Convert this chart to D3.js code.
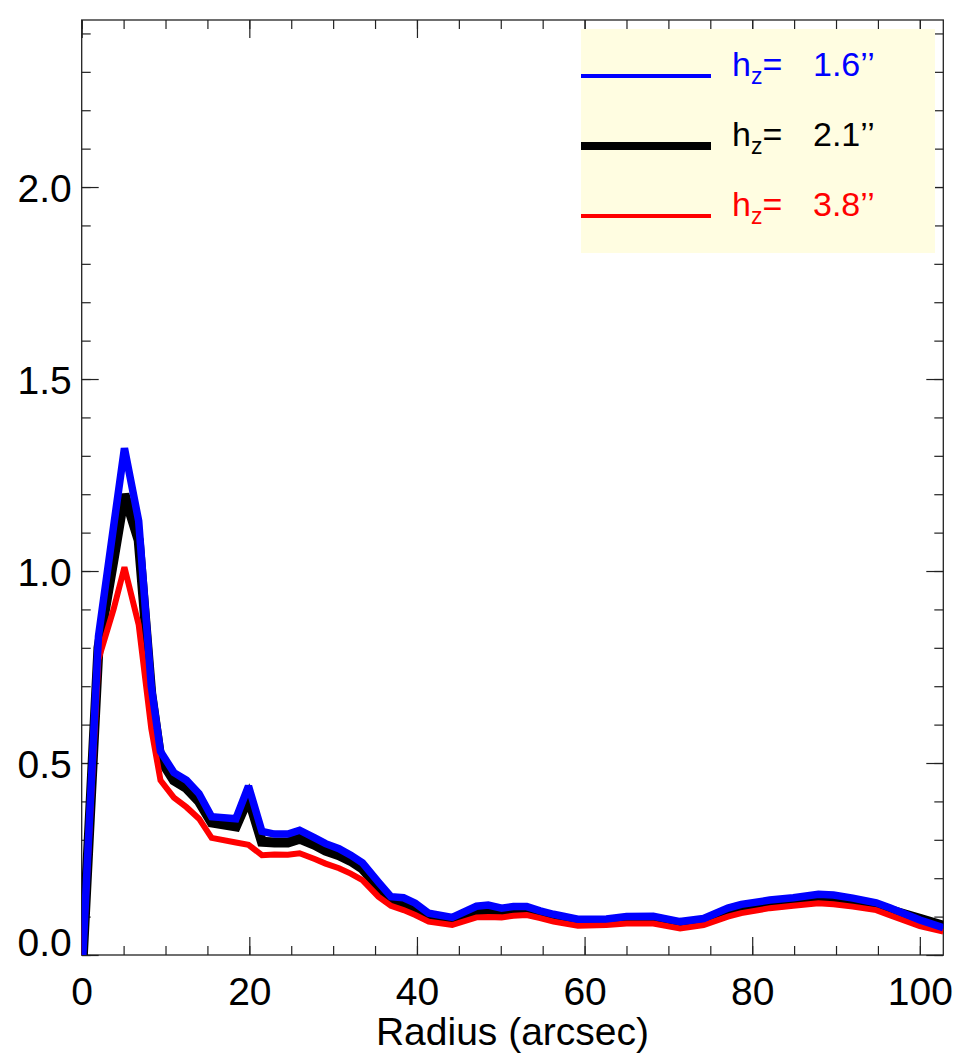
<!DOCTYPE html>
<html>
<head>
<meta charset="utf-8">
<script src="https://cdn.jsdelivr.net/npm/d3@7"></script>
<style>
  body { margin: 0; background: #fff; }
  text { font-family: "Liberation Sans", Arial, Helvetica, sans-serif; }
</style>
</head>
<body>
<div id="chart-area"></div>
<script>
// radius (arcsec) and the three profiles
var radius = [0.0, 2.0, 3.8, 5.1, 6.8, 8.3, 9.4, 11.0, 12.5, 14.0, 15.5, 18.4, 19.9, 21.5, 23.0, 24.6,
  26.0, 27.8, 29.1, 30.7, 32.1, 33.5, 35.4, 36.9, 38.4, 39.8, 41.4, 44.2, 47.1, 48.5, 50.1, 51.5,
  53.1, 54.7, 56.3, 59.2, 62.6, 65.0, 68.2, 71.4, 74.2, 77.1, 78.7, 82.1, 84.9, 87.9, 89.7, 92.0,
  94.8, 96.4, 100.0, 102.8]
var hz16 = [-0.06, 0.83, 1.115, 1.32, 1.13, 0.70, 0.53, 0.475, 0.455, 0.42, 0.36, 0.355, 0.44, 0.322, 0.315, 0.315,
  0.325, 0.305, 0.29, 0.277, 0.26, 0.24, 0.19, 0.152, 0.149, 0.135, 0.109, 0.098, 0.127, 0.13, 0.122, 0.126,
  0.126, 0.115, 0.106, 0.093, 0.094, 0.10, 0.101, 0.087, 0.095, 0.122, 0.132, 0.143, 0.149, 0.158, 0.156, 0.148,
  0.136, 0.123, 0.091, 0.071]
var hz21 = [-0.06, 0.80, 1.03, 1.20, 1.08, 0.68, 0.51, 0.455, 0.435, 0.40, 0.345, 0.335, 0.41, 0.295, 0.293, 0.293,
  0.303, 0.287, 0.272, 0.26, 0.245, 0.225, 0.178, 0.14, 0.135, 0.122, 0.098, 0.09, 0.115, 0.116, 0.112, 0.115,
  0.115, 0.105, 0.096, 0.085, 0.086, 0.091, 0.092, 0.08, 0.087, 0.112, 0.122, 0.134, 0.14, 0.148, 0.147, 0.14,
  0.128, 0.117, 0.094, 0.076]
var hz38 = [-0.06, 0.77, 0.90, 1.01, 0.86, 0.59, 0.455, 0.41, 0.385, 0.355, 0.305, 0.293, 0.287, 0.26, 0.262, 0.261,
  0.265, 0.25, 0.238, 0.226, 0.212, 0.195, 0.152, 0.128, 0.117, 0.104, 0.087, 0.078, 0.098, 0.099, 0.098, 0.102,
  0.104, 0.096, 0.087, 0.076, 0.078, 0.082, 0.082, 0.069, 0.078, 0.10, 0.109, 0.122, 0.128, 0.135, 0.132, 0.126,
  0.117, 0.104, 0.075, 0.061]
var legendValues = ["1.6\u2019\u2019", "2.1\u2019\u2019", "3.8\u2019\u2019"]

var xTicks = [0, 20, 40, 60, 80, 100]
var yTicks = [0.0, 0.5, 1.0, 1.5, 2.0]

var W = 959, H = 1058
var box = { left: 81.7, right: 943.3, top: 20, bottom: 955 }

var svg = d3.select("#chart-area")
    .append("svg")
    .attr("width", W)
    .attr("height", H)

var x = d3.scaleLinear()
    .domain([0, 102.8])
    .range([box.left, box.right])
var y = d3.scaleLinear()
    .domain([0, 2.435])
    .range([box.bottom, box.top])

var xMinor = d3.range(0, 103, 5)
var yMinor = d3.range(0, 24.4, 1).map(d => d / 10)

function styleAxis(sel) {
    sel.selectAll("path").remove()
    sel.selectAll("line").attr("stroke", "#222").attr("stroke-width", 1.2)
    sel.selectAll("text").attr("fill", "#000").attr("font-size", "39px")
        .attr("font-family", "'Liberation Sans', Arial, sans-serif")
}

// bottom axis: minor + major
svg.append("g").attr("transform", "translate(0," + box.bottom + ")")
    .call(d3.axisTop(x).tickValues(xMinor).tickSize(9).tickFormat(""))
    .call(styleAxis)
var xAxis = svg.append("g").attr("transform", "translate(0," + box.bottom + ")")
    .call(d3.axisTop(x).tickValues(xTicks).tickSize(18).tickFormat(d3.format("d")))
    .call(styleAxis)
xAxis.selectAll("text").attr("y", 50).attr("dy", 0)
// top axis (mirrored, no labels)
svg.append("g").attr("transform", "translate(0," + box.top + ")")
    .call(d3.axisBottom(x).tickValues(xMinor).tickSize(9).tickFormat(""))
    .call(styleAxis)
svg.append("g").attr("transform", "translate(0," + box.top + ")")
    .call(d3.axisBottom(x).tickValues(xTicks).tickSize(18).tickFormat(""))
    .call(styleAxis)

// left axis
svg.append("g").attr("transform", "translate(" + box.left + ",0)")
    .call(d3.axisRight(y).tickValues(yMinor).tickSize(9).tickFormat(""))
    .call(styleAxis)
var yAxis = svg.append("g").attr("transform", "translate(" + box.left + ",0)")
    .call(d3.axisRight(y).tickValues(yTicks).tickSize(17).tickFormat(d3.format(".1f")))
    .call(styleAxis)
yAxis.selectAll("text")
    .attr("text-anchor", "end")
    .attr("x", -10)
    .attr("dy", 0)
    .attr("y", d => d === 0 ? 0 : 14)
// right axis
svg.append("g").attr("transform", "translate(" + box.right + ",0)")
    .call(d3.axisLeft(y).tickValues(yMinor).tickSize(9).tickFormat(""))
    .call(styleAxis)
svg.append("g").attr("transform", "translate(" + box.right + ",0)")
    .call(d3.axisLeft(y).tickValues(yTicks).tickSize(17).tickFormat(""))
    .call(styleAxis)

// frame
svg.append("rect")
    .attr("x", box.left).attr("y", box.top)
    .attr("width", box.right - box.left).attr("height", box.bottom - box.top)
    .attr("fill", "none").attr("stroke", "#222").attr("stroke-width", 1.3)

svg.append("text")
    .attr("x", (box.left + box.right) / 2)
    .attr("y", 1045)
    .attr("text-anchor", "middle")
    .attr("font-size", "39px")
    .text("Radius (arcsec)")

// legend box
svg.append("rect")
    .attr("x", 581).attr("y", 29)
    .attr("width", 354).attr("height", 224)
    .attr("fill", "#fffde1")

// profiles
svg.append("clipPath").attr("id", "plotclip")
    .append("rect")
    .attr("x", box.left).attr("y", box.top)
    .attr("width", box.right - box.left).attr("height", box.bottom - box.top)

var line = d3.line()
    .x((d, i) => x(radius[i]))
    .y(d => y(d))

var series = [
    { values: hz21, color: "#000000", width: 10, legendWidth: 8, label: legendValues[1], row: 1 },
    { values: hz38, color: "#ff0000", width: 6, legendWidth: 4, label: legendValues[2], row: 2 },
    { values: hz16, color: "#0000ff", width: 7.5, legendWidth: 4, label: legendValues[0], row: 0 }
]

var plot = svg.append("g").attr("clip-path", "url(#plotclip)")
series.forEach(s => {
    plot.append("path")
        .datum(s.values)
        .attr("fill", "none")
        .attr("stroke", s.color)
        .attr("stroke-width", s.width)
        .attr("stroke-linejoin", "miter")
        .attr("stroke-miterlimit", 3)
        .attr("d", line)
})

// legend entries
var legendRowY = [76, 146, 216]
series.forEach(s => {
    var ly = legendRowY[s.row]
    svg.append("line")
        .attr("x1", 581).attr("x2", 711)
        .attr("y1", ly).attr("y2", ly)
        .attr("stroke", s.color)
        .attr("stroke-width", s.legendWidth)
    var t = svg.append("text")
        .attr("x", 732)
        .attr("y", ly)
        .attr("font-size", "34px")
        .attr("fill", s.color)
    t.append("tspan").text("h")
    t.append("tspan").attr("font-size", "23px").attr("dy", 8).text("z")
    t.append("tspan").attr("dy", -8).text("=")
    svg.append("text")
        .attr("x", 813)
        .attr("y", ly)
        .attr("font-size", "34px")
        .attr("fill", s.color)
        .text(s.label)
})
</script>
</body>
</html>
